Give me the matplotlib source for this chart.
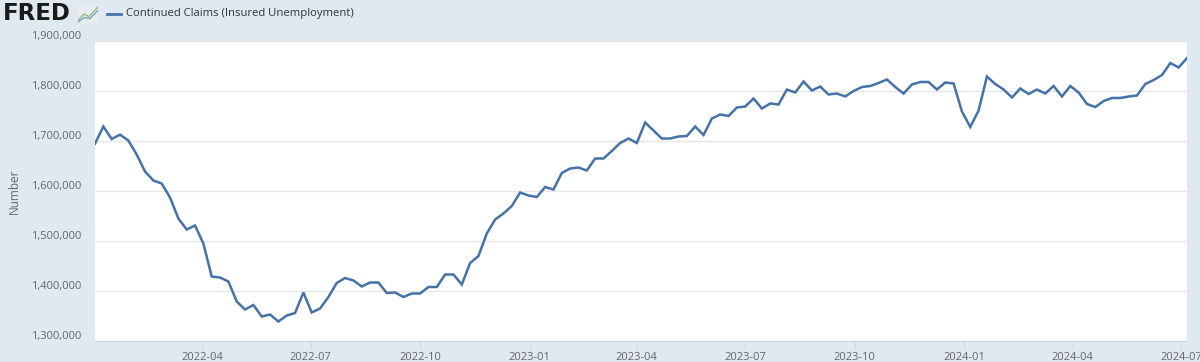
import numpy as np
import pandas as pd
import matplotlib
matplotlib.use("Agg")
import matplotlib.pyplot as plt
import matplotlib.dates as mdates
from matplotlib.ticker import FuncFormatter
from matplotlib.transforms import ScaledTranslation

start_week = "2022-01-01"
claims = [
    1694700, 1729000, 1704000, 1712700, 1701000, 1673000, 1639000, 1621000,
    1615000, 1587000, 1545000, 1523000, 1531000, 1495000, 1429000, 1427000,
    1419000, 1379000, 1363000, 1372000, 1349000, 1353000, 1339000, 1351000,
    1356000, 1397000, 1357000, 1365000, 1388000, 1416000, 1426000, 1421000,
    1409000, 1417000, 1417000, 1396000, 1397000, 1388000, 1395000, 1395000,
    1408000, 1408000, 1433000, 1433000, 1413000, 1456000, 1470000, 1515000,
    1543000, 1555000, 1570000, 1597000, 1591000, 1588000, 1608000, 1603000,
    1636000, 1645000, 1647000, 1641000, 1665000, 1665000, 1680000, 1696000,
    1705000, 1696000, 1737000, 1721000, 1705000, 1705000, 1709000, 1710000,
    1729000, 1712000, 1745000, 1753000, 1750000, 1767000, 1769000, 1785000,
    1765000, 1775000, 1773000, 1803000, 1797000, 1819000, 1801000, 1809000,
    1793000, 1795000, 1789000, 1800000, 1808000, 1810000, 1816000, 1823000,
    1808000, 1795000, 1813000, 1818000, 1818000, 1803000, 1817000, 1815000,
    1759000, 1728000, 1761000, 1829000, 1814000, 1803000, 1787000, 1805000,
    1794000, 1803000, 1795000, 1810000, 1789000, 1810000, 1797000, 1774000,
    1768000, 1780000, 1786000, 1786000, 1789000, 1791000, 1814000, 1822000,
    1832000, 1856000, 1847000, 1866000,
]
dates = pd.date_range(start_week, periods=len(claims), freq="W-SAT")

y_ticks = [1300000, 1400000, 1500000, 1600000, 1700000, 1800000, 1900000]
x_ticks = pd.date_range("2022-04-01", "2024-07-01", freq="QS")

series_name = "Continued Claims (Insured Unemployment)"
LINE_C = "#4572a7"
BG = "#e1e9f0"
TXT = "#666666"

plt.rcParams["font.family"] = ["Open Sans", "DejaVu Sans"]

fig = plt.figure(figsize=(12, 3.62), dpi=100)
fig.patch.set_facecolor(BG)
ax = fig.add_axes([95 / 1200, 1 - 341 / 362, (1187 - 95) / 1200, 300 / 362])
ax.set_facecolor("white")

ax.plot(dates, claims, color=LINE_C, lw=1.8, solid_joinstyle="miter", zorder=3)

ax.set_xlim(dates[0], dates[-1])
ax.set_ylim(y_ticks[0], y_ticks[-1])
ax.set_yticks(y_ticks)
ax.yaxis.set_major_formatter(FuncFormatter(lambda v, _: f"{int(v):,}"))
ax.set_xticks(x_ticks)
ax.xaxis.set_major_formatter(mdates.DateFormatter("%Y-%m"))

ax.grid(axis="y", color="#e6e6e6", lw=1)
ax.set_axisbelow(True)
for s in ("top", "right", "left"):
    ax.spines[s].set_visible(False)
ax.spines["bottom"].set_color("#ccd6eb")
ax.tick_params(axis="y", length=0, labelsize=8, labelcolor=TXT, pad=10)
ax.tick_params(axis="x", length=6, color="#ccd6eb", labelsize=8,
               labelcolor=TXT, pad=2)

# étiquettes y légèrement au-dessus des lignes de grille (style Highcharts)
off = ScaledTranslation(0, 4 / 72, fig.dpi_scale_trans)
for lab in ax.get_yticklabels():
    lab.set_transform(lab.get_transform() + off)

ax.set_ylabel("Number", color=TXT, fontsize=8.5)
ax.yaxis.set_label_coords(-0.068, 0.5)

# ── En-tête : logo FRED + légende ──────────────────────────────────────
fig.text(3 / 1200, 1 - 14 / 362, "FRED", fontsize=16.5, fontweight="bold",
         color="#1a1a1a", va="center", ha="left", family="DejaVu Sans")
icon = fig.add_axes([78 / 1200, 1 - 23 / 362, 20 / 1200, 18 / 362])
icon.set_facecolor("#e8ecef")
icon.plot([0, 0.3, 0.55, 1], [0.15, 0.5, 0.35, 0.9], color="#8dbb6f", lw=0.9)
icon.plot([0, 0.3, 0.6, 1], [0.05, 0.3, 0.25, 0.7], color="#6d98c4", lw=0.9)
icon.set_xlim(0, 1)
icon.set_ylim(0, 1)
icon.set_xticks([])
icon.set_yticks([])
for s in icon.spines.values():
    s.set_visible(False)

fig.add_artist(plt.Line2D([107 / 1200, 121 / 1200], [1 - 13.5 / 362] * 2,
                          color=LINE_C, lw=2, transform=fig.transFigure))
fig.text(126 / 1200, 1 - 13.5 / 362, series_name, fontsize=8.1,
         color="#333333", va="center", ha="left")

fig.savefig("out.png", dpi=100, facecolor=BG)
